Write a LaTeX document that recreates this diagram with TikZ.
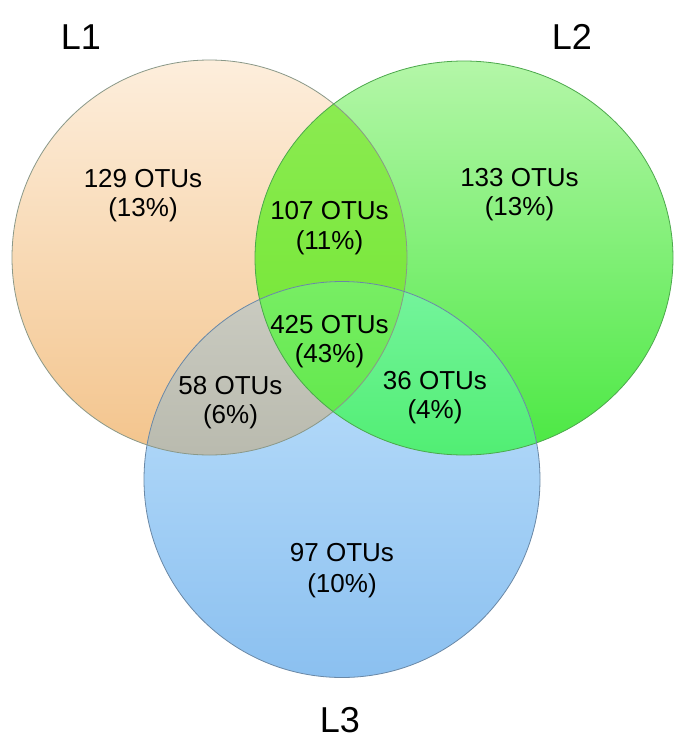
\documentclass[tikz,border=0pt]{standalone}
\usepackage{fontspec}
\setmainfont{Liberation Sans}
\definecolor{oA1}{HTML}{FDEEDC}
\definecolor{oA2}{HTML}{F3C48C}
\definecolor{gB1}{HTML}{B4F6A8}
\definecolor{gBm}{HTML}{86F27A}
\definecolor{gB2}{HTML}{4AE842}
\definecolor{bC1}{HTML}{C2E3FC}
\definecolor{bC2}{HTML}{8BC0F0}
\definecolor{iAB1}{HTML}{8CEB52}
\definecolor{iAB2}{HTML}{70E630}
\definecolor{iAC1}{HTML}{CBCCC2}
\definecolor{iAC2}{HTML}{B9BAAE}
\definecolor{iBC1}{HTML}{76F49E}
\definecolor{iBC2}{HTML}{50EE72}
\definecolor{iABC1}{HTML}{78EE64}
\definecolor{iABC2}{HTML}{62E84C}
\definecolor{lnA}{HTML}{8A9888}
\definecolor{lnB}{HTML}{4CA84C}
\definecolor{lnC}{HTML}{6A88A6}
\begin{document}
\begin{tikzpicture}[x=1pt,y=-1pt,
  pA/.style={insert path={(209.5,257.5) circle[radius=197.5]}},
  pB/.style={insert path={(464,258) ellipse[x radius=209,y radius=197]}},
  pC/.style={insert path={(342,479.5) circle[radius=198]}},
  cnt/.style={font=\fontsize{26}{29}\selectfont, anchor=base, inner sep=0pt},
  lbl/.style={font=\fontsize{36}{40}\selectfont, anchor=base, inner sep=0pt},
  outl/.style={line width=0.8pt}]
\fill[white] (0,0) rectangle (689,745);
\useasboundingbox (0,0) rectangle (689,745);
% single sets
\shade[top color=oA1, bottom color=oA2, pA];
\shade[top color=gB1, middle color=gBm, bottom color=gB2, pB];
\shade[top color=bC1, bottom color=bC2, pC];
% pair intersections
\begin{scope}
  \clip[pA]; \clip[pB];
  \shade[top color=iAB1, bottom color=iAB2] (240,90) rectangle (420,420);
\end{scope}
\begin{scope}
  \clip[pA]; \clip[pC];
  \shade[top color=iAC1, bottom color=iAC2] (130,280) rectangle (420,460);
\end{scope}
\begin{scope}
  \clip[pB]; \clip[pC];
  \shade[top color=iBC1, bottom color=iBC2] (250,280) rectangle (550,460);
\end{scope}
\begin{scope}
  \clip[pA]; \clip[pB]; \clip[pC];
  \shade[top color=iABC1, bottom color=iABC2] (250,280) rectangle (420,420);
\end{scope}
% outlines
\draw[outl, lnA, pA];
\draw[outl, lnB, pB];
\draw[outl, lnC, pC];
% labels
\node[lbl] (L1) at (81,49) {L1};
\node[lbl] (L2) at (572,49) {L2};
\node[lbl] (L3) at (340,732) {L3};
% counts
\node[cnt] (a1) at (143,187) {129 OTUs};
\node[cnt] (a2) at (143,216) {(13\%)};
\node[cnt] (b1) at (519.5,186) {133 OTUs};
\node[cnt] (b2) at (519.5,215) {(13\%)};
\node[cnt] (ab1) at (329.5,219) {107 OTUs};
\node[cnt] (ab2) at (329.5,249) {(11\%)};
\node[cnt] (abc1) at (329.5,333) {425 OTUs};
\node[cnt] (abc2) at (329.5,362) {(43\%)};
\node[cnt] (ac1) at (230.5,394) {58 OTUs};
\node[cnt] (ac2) at (230.5,423) {(6\%)};
\node[cnt] (bc1) at (435,389) {36 OTUs};
\node[cnt] (bc2) at (435,418) {(4\%)};
\node[cnt] (c1) at (342,561) {97 OTUs};
\node[cnt] (c2) at (342,592) {(10\%)};
\end{tikzpicture}
\end{document}
